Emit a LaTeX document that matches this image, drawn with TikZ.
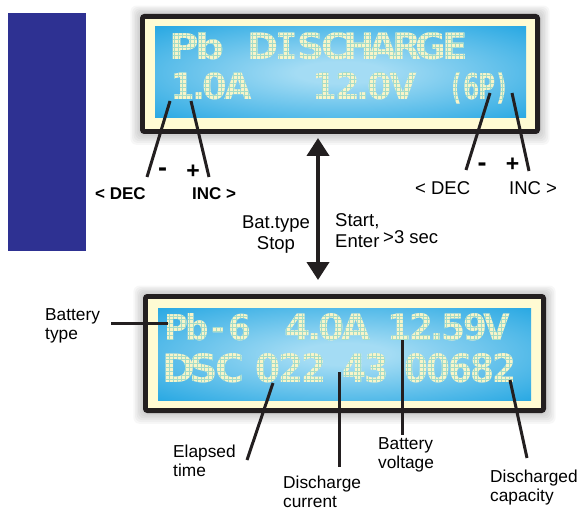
\documentclass[tikz,border=0pt]{standalone}
\usepackage{fontspec}
\usepackage{graphicx}
\setmainfont{Liberation Sans}
\newfontfamily\lcdfont{DejaVu Sans}
\newfontfamily\lcdmono{DejaVu Sans Mono}
\usetikzlibrary{arrows.meta}
\definecolor{navy}{HTML}{2E3192}
\definecolor{lcdblue}{HTML}{0E9DDF}
\definecolor{lcdlight}{HTML}{A4DCF4}
\definecolor{bezel}{HTML}{FFFBD3}
\definecolor{framecol}{HTML}{231F20}
\definecolor{lcdtext}{HTML}{F8F4C8}
\pgfdeclareradialshading{lcdshade}{\pgfpoint{0bp}{0bp}}{color(0bp)=(lcdlight); color(6bp)=(lcdlight); color(42bp)=(lcdblue); color(50bp)=(lcdblue)}
% monospaced cells for the LCD characters (narrow cell for the point, serif I)
\def\lcdcell#1{\ifx#1.\makebox[0.28em][c]{#1}\else\ifx#1I\makebox[0.64em][c]{\lcdmono\bfseries #1}\else\makebox[0.64em][c]{#1}\fi\fi}
\def\lcdloop#1{\ifx#1\relax\else\lcdcell{#1}\expandafter\lcdloop\fi}
\newcommand{\lcdbox}[3]{\resizebox{#1bp}{#2bp}{\lcdfont\bfseries\lcdloop#3\relax}}
\tikzset{
  lcd/.style={inner sep=0pt, anchor=base west, text=lcdtext},
  lbl/.style={font=\fontsize{17.3bp}{19bp}\selectfont, inner sep=0pt, align=left, anchor=north west},
  midlbl/.style={font=\fontsize{18.5bp}{21bp}\selectfont, inner sep=0pt},
  boldlbl/.style={font=\fontsize{17bp}{19bp}\selectfont\bfseries, inner sep=0pt, anchor=base west},
  signlbl/.style={font=\fontsize{23bp}{25bp}\selectfont\bfseries, inner sep=0pt, anchor=base},
  minuslbl/.style={font=\fontsize{27bp}{29bp}\selectfont\bfseries, inner sep=0pt, anchor=base},
  lead/.style={draw=framecol, line width=3bp},
  halo/.style={fill=black, opacity=0.03},
  dotgap/.style={draw=lcdlight, line width=0.8bp},
}
\begin{document}
\begin{tikzpicture}[x=1bp,y=-1bp]
\useasboundingbox (0,0) rectangle (583,510);
\fill[white] (0,0) rectangle (583,510);
% navy block
\fill[navy] (7.5,13) rectangle (85.5,250.5);

% ---- top display ----
\foreach \k in {1,...,6}
  \fill[halo, rounded corners=6bp] ({140-\k*1.6},{14-\k*1.4}) rectangle ({540+\k*1.6},{134+\k*1.8});
\fill[framecol, rounded corners=4bp] (140,14) rectangle (540,134);
\fill[bezel] (145,19) rectangle (535,129);
\shade[shading=lcdshade] (155,27) rectangle (526,118);

% ---- bottom display ----
\foreach \k in {1,...,6}
  \fill[halo, rounded corners=6bp] ({143-\k*1.6},{294-\k*1.4}) rectangle ({546+\k*1.6},{413+\k*1.8});
\fill[framecol, rounded corners=4bp] (143,294) rectangle (546,413);
\fill[bezel] (148,299) rectangle (541,408);
\shade[shading=lcdshade] (158,308) rectangle (531,400);

% ---- LCD texts ----
\node[lcd] (tPb)   at (171,60)  {\lcdbox{52}{27}{Pb}};
\node[lcd] (tDis)  at (251,60)  {\lcdbox{216}{27}{DISCHARGE}};
\node[lcd] (tCur)  at (171,100) {\lcdbox{78}{27}{1.0A}};
\node[lcd] (tVolt) at (313,100) {\lcdbox{101}{27}{12.0V}};
\node[lcd] (tCell) at (449,100) {\lcdbox{60}{27}{(6P)}};

\node[lcd] (bType) at (166,340) {\lcdbox{84}{27}{Pb-6}};
\node[lcd] (bCur)  at (285,340) {\lcdbox{83}{27}{4.0A}};
\node[lcd] (bVolt) at (388,340) {\lcdbox{120}{27}{12.59V}};
\node[lcd] (bDsc)  at (166,382) {\lcdbox{76}{29}{DSC}};
\node[lcd] (bTime) at (256,382) {\lcdbox{69}{29}{022}};
\node[lcd] (bAmp)  at (343,382) {\lcdbox{45}{29}{43}};
\node[lcd] (bCap)  at (405,382) {\lcdbox{110}{29}{00682}};

% dot-matrix gaps (darken: invisible on the blue, visible on the characters)
\begin{scope}[blend mode=darken]
  \clip (155,27) rectangle (526,118);
  \foreach \ya/\yb in {32/61, 72/101}{
    \foreach \x in {0,...,96}
      \draw[dotgap] ({155+\x*3.9},\ya) -- ({155+\x*3.9},\yb);
    \foreach \y in {0,...,7}
      \draw[dotgap] (155,{\ya+\y*3.9}) -- (526,{\ya+\y*3.9});
  }
\end{scope}
\begin{scope}[blend mode=darken]
  \clip (158,308) rectangle (531,400);
  \foreach \ya/\yb in {312/341, 352/383}{
    \foreach \x in {0,...,96}
      \draw[dotgap] ({158+\x*3.9},\ya) -- ({158+\x*3.9},\yb);
    \foreach \y in {0,...,7}
      \draw[dotgap] (158,{\ya+\y*3.9}) -- (531,{\ya+\y*3.9});
  }
\end{scope}

% ---- top labels and leads ----
\coordinate (dl1) at (170,101); \coordinate (dl2) at (147,177);
\coordinate (il1) at (191,101); \coordinate (il2) at (209,177);
\draw[lead] (dl1) -- (dl2);
\draw[lead] (il1) -- (il2);
\node[minuslbl] (mL) at (162.5,177) {-};
\node[signlbl] (pL) at (193,178.5) {+};
\node[boldlbl] (decL) at (95,200) {< DEC};
\node[boldlbl] (incL) at (192,200) {INC >};

\coordinate (dr1) at (490,93); \coordinate (dr2) at (466,170);
\coordinate (ir1) at (512,93); \coordinate (ir2) at (529,171);
\draw[lead] (dr1) -- (dr2);
\draw[lead] (ir1) -- (ir2);
\node[minuslbl] (mR) at (482,172) {-};
\node[signlbl] (pR) at (512.5,171.5) {+};
\node[midlbl, anchor=base west] (decR) at (415,195) {< DEC};
\node[midlbl, anchor=base west] (incR) at (509,195) {INC >};

% ---- arrow ----
\coordinate (arT) at (318,138);
\coordinate (arB) at (318,280);
\draw[framecol, line width=4bp, {Triangle[width=22bp,length=18bp]}-{Triangle[width=22bp,length=18bp]}] (arT) -- (arB);
\node[midlbl, align=center, anchor=north] (batstop) at (276,216) {Bat.type\\Stop};
\node[midlbl, align=left, anchor=north west] (start) at (335,213.5) {Start,\\Enter};
\node[midlbl, anchor=base west] (sec) at (383,243) {>3 sec};

% ---- bottom labels and leads ----
\node[lbl] (lType) at (45,308.6) {Battery\\type};
\coordinate (ty1) at (111,323.5); \coordinate (ty2) at (168,323.5);
\draw[lead] (ty1) -- (ty2);

\coordinate (el1) at (273,383); \coordinate (el2) at (247,460);
\draw[lead] (el1) -- (el2);
\node[lbl] (lTime) at (173,444.6) {Elapsed\\time};

\coordinate (dc1) at (339,372); \coordinate (dc2) at (339,467);
\draw[lead] (dc1) -- (dc2);
\node[lbl] (lCur) at (283,476) {Discharge\\current};

\coordinate (bv1) at (402,340); \coordinate (bv2) at (402,435);
\draw[lead] (bv1) -- (bv2);
\node[lbl] (lVolt) at (378,437.6) {Battery\\voltage};

\coordinate (cp1) at (510,380); \coordinate (cp2) at (527,458);
\draw[lead] (cp1) -- (cp2);
\node[lbl] (lCap) at (490,469.6) {Discharged\\capacity};
\end{tikzpicture}
\end{document}
